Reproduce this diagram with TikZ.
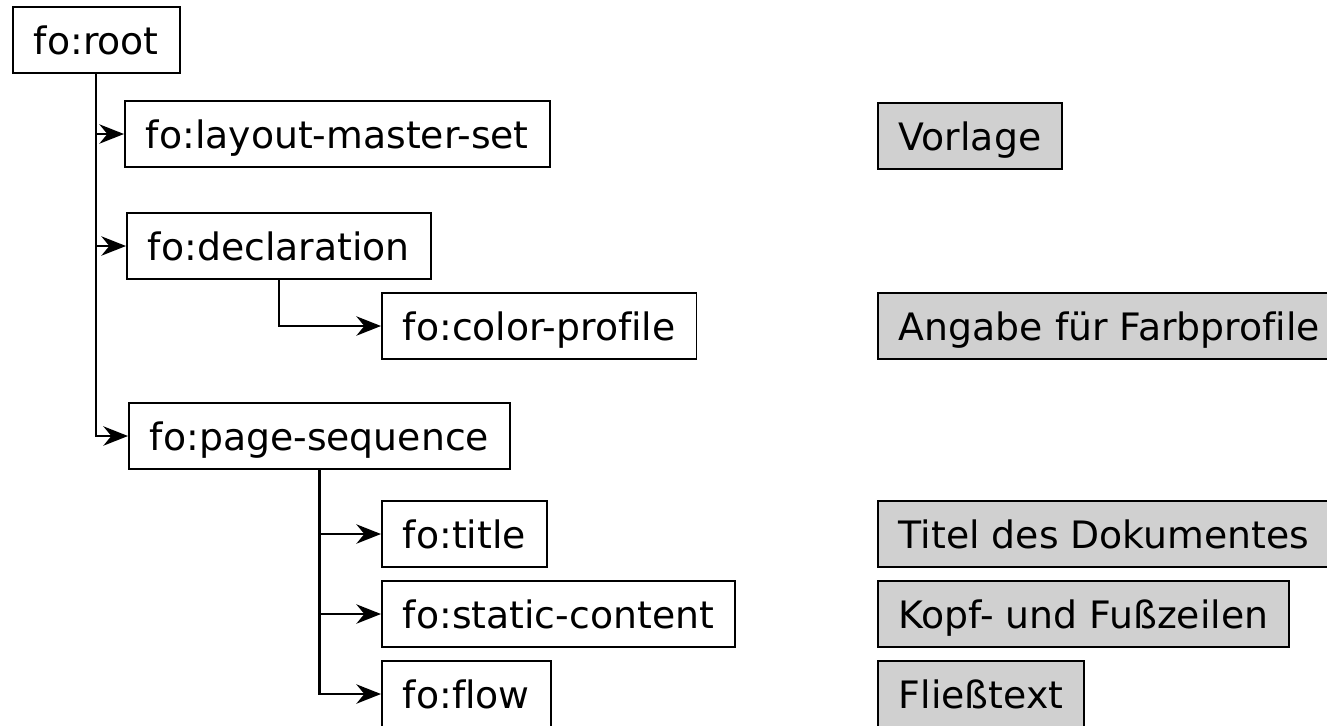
\documentclass[tikz,border=0pt]{standalone}
\usepackage{fontspec}
\setmainfont{DejaVu Sans}[Ligatures=NoCommon]
\usetikzlibrary{arrows.meta}
\definecolor{notegray}{RGB}{208,208,208}
\tikzset{elem/.style={draw,anchor=west,line width=1pt,minimum height=1.32cm,
                      inner xsep=0.42cm,text height=16.5pt,text depth=0.5pt},
         note/.style={elem,fill=notegray},
         conn/.style={line width=1.3pt,-{Stealth[length=14pt,width=11pt,inset=4.5pt]}}
         }

\begin{document}
\begin{tikzpicture}[x=0.02cm,y=-0.02cm,font=\fontsize{21.5}{26}\selectfont]
        \useasboundingbox (0,0) rectangle (1327,725);
        % elements
        \node[elem] (root) at (12,40) {fo:root};
        \node[elem] (lms) at (124,134) {fo:layout-master-set};
        \node[elem] (decl) at (126,246) {fo:declaration};
        \node[elem] (cprof) at (381,326) {fo:color-profile};
        \node[elem] (pseq) at (128,436) {fo:page-sequence};
        \node[elem] (title) at (381,534) {fo:title};
        \node[elem] (static) at (381,614) {fo:static-content};
        \node[elem] (flow) at (381,694) {fo:flow};
        % notes
        \node[note] (vorlage) at (877,136) {Vorlage};
        \node[note] (farb) at (877,326) {Angabe für Farbprofile};
        \node[note] (titel) at (877,534) {Titel des Dokumentes};
        \node[note] (kopf) at (877,614) {Kopf- und Fußzeilen};
        \node[note] (fliess) at (877,694) {Fließtext};
        % connectors
        \draw[conn] (root.south) |- (lms.west);
        \draw[conn] (root.south) |- (decl.west);
        \draw[conn] (root.south) |- (pseq.west);
        \draw[conn] (decl.south) |- (cprof.west);
        \draw[conn] (pseq.south) |- (title.west);
        \draw[conn] (pseq.south) |- (static.west);
        \draw[conn] (pseq.south) |- (flow.west);
\end{tikzpicture}
\end{document}
